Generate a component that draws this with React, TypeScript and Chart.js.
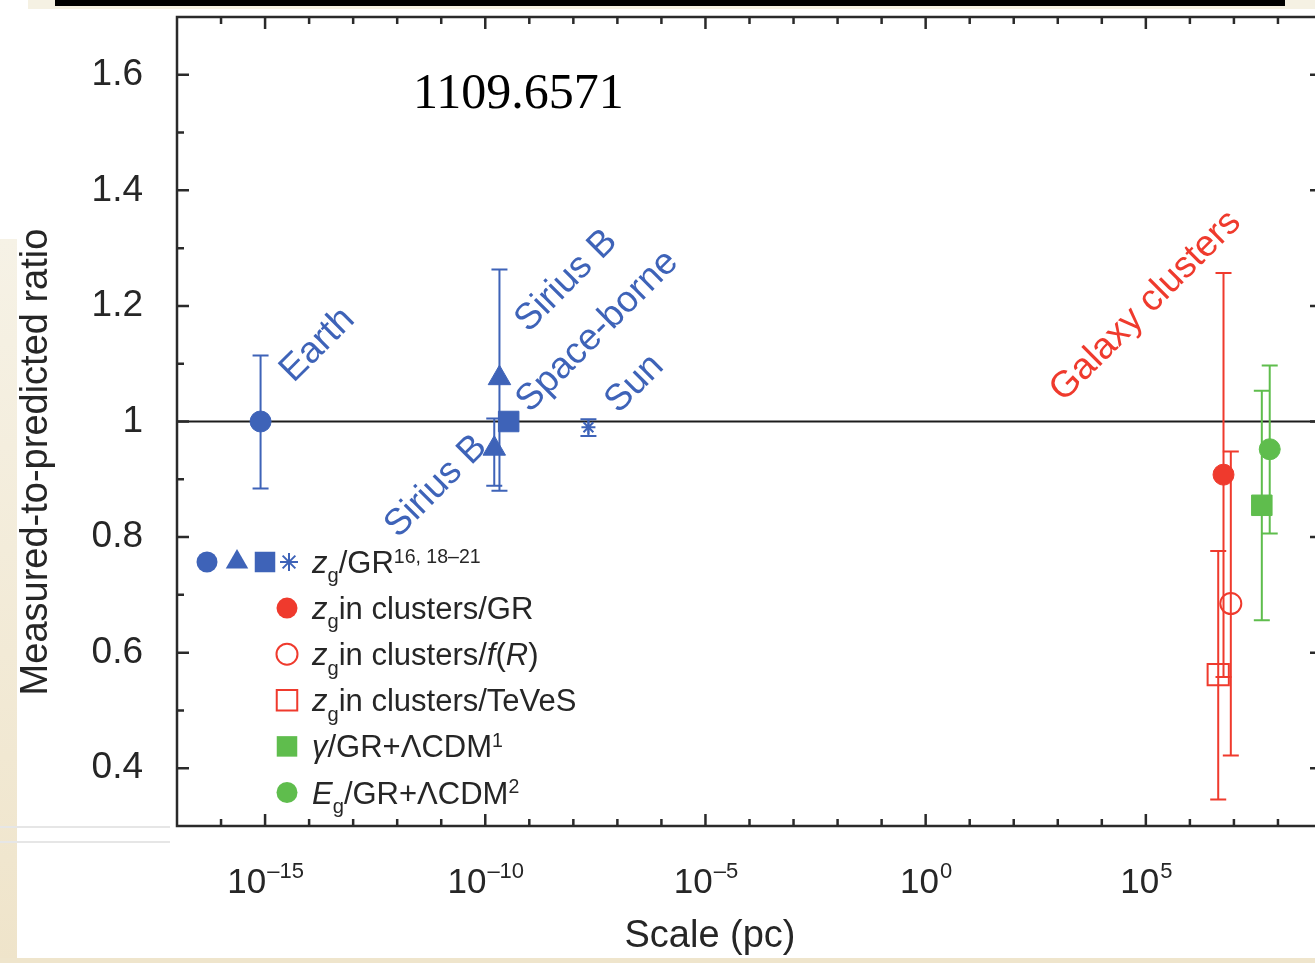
import React, { useEffect, useRef } from "react";
import { Chart, registerables } from "chart.js";

Chart.register(...registerables);

// ---------- axes ----------
const scaleMin = 1e-17;
const scaleMax = 1e9;
const ratioMin = 0.3;
const ratioMax = 1.7;
const ratioTicks = [0.4, 0.6, 0.8, 1, 1.2, 1.4, 1.6];
const scaleTickExponents = [-15, -10, -5, 0, 5];
const referenceRatio = 1;

// ---------- z_g / GR (blue) ----------
const earthScale = [7.9e-16];
const earthRatio = [1.0];
const earthLow = [0.884];
const earthHigh = [1.114];

const siriusScale = [2.1e-10, 1.6e-10];
const siriusRatio = [1.075, 0.953];
const siriusLow = [0.88, 0.889];
const siriusHigh = [1.263, 1.005];

const spaceScale = [3.4e-10];
const spaceRatio = [1.0];

const sunScale = [2.2e-8];
const sunRatio = [0.99];
const sunLow = [0.975];
const sunHigh = [1.004];

// ---------- clusters (red) ----------
const clusterGRScale = [5.8e6];
const clusterGRRatio = [0.908];
const clusterGRLow = [0.558];
const clusterGRHigh = [1.257];

const clusterFRScale = [8.5e6];
const clusterFRRatio = [0.685];
const clusterFRLow = [0.422];
const clusterFRHigh = [0.948];

const clusterTeVeSScale = [4.4e6];
const clusterTeVeSRatio = [0.562];
const clusterTeVeSLow = [0.346];
const clusterTeVeSHigh = [0.776];

// ---------- GR + ΛCDM (green) ----------
const gammaScale = [4.3e7];
const gammaRatio = [0.855];
const gammaLow = [0.656];
const gammaHigh = [1.053];

const egScale = [6.5e7];
const egRatio = [0.952];
const egLow = [0.806];
const egHigh = [1.097];

// ---------- texts ----------
const pageTitle = "1109.6571";
const xTitle = "Scale (pc)";
const yTitle = "Measured-to-predicted ratio";

const BLUE = "#3e63b8";
const RED = "#ef3a2d";
const GREEN = "#5fbd4d";
const INK = "#262626";
const FONT = '"Liberation Sans", Arial, Helvetica, sans-serif';
const SERIF = '"Liberation Serif", "Times New Roman", serif';

const pts = (xs: number[], ys: number[]) => xs.map((x, i) => ({ x, y: ys[i] }));

type Seg = { t: string; it?: boolean; sub?: boolean; sup?: boolean };

function drawRich(ctx: CanvasRenderingContext2D, x: number, y: number, segs: Seg[], size: number) {
  let cx = x;
  for (const s of segs) {
    const fs = s.sub ? size * 0.65 : s.sup ? size * 0.63 : size;
    ctx.font = `${s.it ? "italic " : ""}${fs}px ${FONT}`;
    const dy = s.sub ? size * 0.3 : s.sup ? -size * 0.33 : 0;
    ctx.fillText(s.t, cx, y + dy);
    cx += ctx.measureText(s.t).width;
  }
}

function drawMarker(
  ctx: CanvasRenderingContext2D,
  style: string,
  x: number,
  y: number,
  r: number,
  color: string,
  filled: boolean
) {
  ctx.save();
  ctx.strokeStyle = color;
  ctx.fillStyle = color;
  ctx.lineWidth = 2;
  ctx.beginPath();
  if (style === "circle") {
    ctx.arc(x, y, r, 0, Math.PI * 2);
  } else if (style === "triangle") {
    for (let k = 0; k < 3; k++) {
      const a = (k * 2 * Math.PI) / 3;
      const px = x + Math.sin(a) * r;
      const py = y - Math.cos(a) * r;
      if (k === 0) ctx.moveTo(px, py);
      else ctx.lineTo(px, py);
    }
    ctx.closePath();
  } else if (style === "rect") {
    const s = r * Math.SQRT1_2;
    ctx.rect(x - s, y - s, 2 * s, 2 * s);
  } else if (style === "star") {
    for (let k = 0; k < 4; k++) {
      const a = (k * Math.PI) / 4;
      ctx.moveTo(x - Math.cos(a) * r, y - Math.sin(a) * r);
      ctx.lineTo(x + Math.cos(a) * r, y + Math.sin(a) * r);
    }
  }
  if (style === "star" || !filled) ctx.stroke();
  else ctx.fill();
  ctx.restore();
}

const legendRows: { markers: { style: string; color: string; filled: boolean; r: number; x: number }[]; segs: Seg[] }[] = [
  {
    markers: [
      { style: "circle", color: BLUE, filled: true, r: 10.5, x: 207 },
      { style: "triangle", color: BLUE, filled: true, r: 13, x: 237 },
      { style: "rect", color: BLUE, filled: true, r: 14.5, x: 265 },
      { style: "star", color: BLUE, filled: false, r: 9, x: 289 },
    ],
    segs: [{ t: "z", it: true }, { t: "g", sub: true }, { t: "/GR" }, { t: "16, 18\u201321", sup: true }],
  },
  {
    markers: [{ style: "circle", color: RED, filled: true, r: 10.5, x: 287 }],
    segs: [{ t: "z", it: true }, { t: "g", sub: true }, { t: "in clusters/GR" }],
  },
  {
    markers: [{ style: "circle", color: RED, filled: false, r: 10.5, x: 287 }],
    segs: [
      { t: "z", it: true },
      { t: "g", sub: true },
      { t: "in clusters/" },
      { t: "f", it: true },
      { t: "(" },
      { t: "R", it: true },
      { t: ")" },
    ],
  },
  {
    markers: [{ style: "rect", color: RED, filled: false, r: 14.5, x: 287 }],
    segs: [{ t: "z", it: true }, { t: "g", sub: true }, { t: "in clusters/TeVeS" }],
  },
  {
    markers: [{ style: "rect", color: GREEN, filled: true, r: 14.5, x: 287 }],
    segs: [{ t: "\u03b3", it: true }, { t: "/GR+\u039bCDM" }, { t: "1", sup: true }],
  },
  {
    markers: [{ style: "circle", color: GREEN, filled: true, r: 10.5, x: 287 }],
    segs: [{ t: "E", it: true }, { t: "g", sub: true }, { t: "/GR+\u039bCDM" }, { t: "2", sup: true }],
  },
];

const annotations = [
  { text: "Earth", x: earthScale[0], y: earthRatio[0], dx: 33, dy: -38, color: BLUE },
  { text: "Sirius B", x: siriusScale[0], y: siriusRatio[0], dx: 29, dy: -45, color: BLUE },
  { text: "Space-borne", x: spaceScale[0], y: spaceRatio[0], dx: 21, dy: -8, color: BLUE },
  { text: "Sun", x: sunScale[0], y: sunRatio[0], dx: 30, dy: -13, color: BLUE },
  { text: "Sirius B", x: siriusScale[1], y: siriusRatio[1], dx: -96, dy: 90, color: BLUE },
  { text: "Galaxy clusters", x: clusterGRScale[0], y: clusterGRRatio[0], dx: -160, dy: -72, color: RED },
];

const decoPlugin = {
  id: "deco",
  beforeDatasetsDraw(chart: any) {
    const { ctx, chartArea: ca, scales } = chart;
    const xs = scales.x;
    const ys = scales.y;
    ctx.save();
    // reference line
    ctx.strokeStyle = "#1c1c1c";
    ctx.lineWidth = 2;
    const y1 = ys.getPixelForValue(referenceRatio);
    ctx.beginPath();
    ctx.moveTo(ca.left, y1);
    ctx.lineTo(ca.right, y1);
    ctx.stroke();
    // error bars
    const cap = 8;
    chart.data.datasets.forEach((ds: any) => {
      if (!ds.errLow) return;
      ctx.strokeStyle = ds.pointBorderColor;
      ctx.lineWidth = 2;
      ds.data.forEach((p: any, j: number) => {
        const px = xs.getPixelForValue(p.x);
        const lo = ys.getPixelForValue(ds.errLow[j]);
        const hi = ys.getPixelForValue(ds.errHigh[j]);
        ctx.beginPath();
        ctx.moveTo(px, lo);
        ctx.lineTo(px, hi);
        ctx.moveTo(px - cap, lo);
        ctx.lineTo(px + cap, lo);
        ctx.moveTo(px - cap, hi);
        ctx.lineTo(px + cap, hi);
        ctx.stroke();
      });
    });
    ctx.restore();
  },
  afterDraw(chart: any) {
    const { ctx, chartArea: ca, scales } = chart;
    const xs = scales.x;
    const ys = scales.y;
    ctx.save();
    // frame
    ctx.strokeStyle = "#2a2a2a";
    ctx.lineWidth = 2.5;
    ctx.strokeRect(ca.left, ca.top, ca.right - ca.left, ca.bottom - ca.top);
    // x ticks (inward, every decade)
    ctx.beginPath();
    const eMin = Math.ceil(Math.log10(scaleMin)) + 1;
    const eMax = Math.floor(Math.log10(scaleMax)) - 1;
    for (let e = eMin; e <= eMax; e++) {
      const px = xs.getPixelForValue(10 ** e);
      const len = e % 5 === 0 ? 12 : 7;
      ctx.moveTo(px, ca.bottom);
      ctx.lineTo(px, ca.bottom - len);
      ctx.moveTo(px, ca.top);
      ctx.lineTo(px, ca.top + len);
    }
    // y ticks (inward, every 0.1)
    for (let k = Math.round(ratioMin * 10) + 1; k < Math.round(ratioMax * 10); k++) {
      const py = ys.getPixelForValue(k / 10);
      const len = k % 2 === 0 ? 12 : 7;
      ctx.moveTo(ca.left, py);
      ctx.lineTo(ca.left + len, py);
      ctx.moveTo(ca.right, py);
      ctx.lineTo(ca.right - len, py);
    }
    ctx.stroke();

    // x tick labels with superscript exponents
    ctx.fillStyle = INK;
    ctx.textBaseline = "alphabetic";
    ctx.textAlign = "left";
    for (const e of scaleTickExponents) {
      const px = xs.getPixelForValue(10 ** e);
      const base = "10";
      const sup = e < 0 ? "\u2013" + Math.abs(e) : String(e);
      ctx.font = `35px ${FONT}`;
      const wb = ctx.measureText(base).width;
      ctx.font = `22px ${FONT}`;
      const ws = ctx.measureText(sup).width;
      const x0 = px - (wb + ws) / 2;
      ctx.font = `35px ${FONT}`;
      ctx.fillText(base, x0, ca.bottom + 67);
      ctx.font = `22px ${FONT}`;
      ctx.fillText(sup, x0 + wb + 1, ca.bottom + 52);
    }

    // axis titles
    ctx.font = `38px ${FONT}`;
    ctx.textAlign = "center";
    ctx.textBaseline = "middle";
    ctx.fillText(xTitle, 710, 937);
    ctx.save();
    ctx.translate(37, 462);
    ctx.rotate(-Math.PI / 2);
    ctx.fillText(yTitle, 0, 0);
    ctx.restore();

    // legend
    ctx.textAlign = "left";
    ctx.textBaseline = "alphabetic";
    legendRows.forEach((row, i) => {
      const y = 562 + i * 46.1;
      row.markers.forEach((m) => drawMarker(ctx, m.style, m.x, y, m.r, m.color, m.filled));
      ctx.fillStyle = INK;
      drawRich(ctx, 312, y + 11, row.segs, 31);
    });

    // rotated annotations
    ctx.font = `37px ${FONT}`;
    for (const a of annotations) {
      const px = xs.getPixelForValue(a.x) + a.dx;
      const py = ys.getPixelForValue(a.y) + a.dy;
      ctx.save();
      ctx.translate(px, py);
      ctx.rotate(-Math.PI / 4);
      ctx.fillStyle = a.color;
      ctx.fillText(a.text, 0, 0);
      ctx.restore();
    }

    // page title
    ctx.fillStyle = "#000";
    ctx.font = `50px ${SERIF}`;
    ctx.fillText(pageTitle, 413, 108);
    ctx.restore();
  },
};

export default function App() {
  const ref = useRef<HTMLCanvasElement>(null);

  useEffect(() => {
    const canvas = ref.current;
    if (!canvas) return;

    const ds = (
      label: string,
      xs: number[],
      ys: number[],
      style: string,
      radius: number,
      color: string,
      filled: boolean,
      lo?: number[],
      hi?: number[]
    ) => ({
      label,
      data: pts(xs, ys),
      pointStyle: style,
      pointRadius: radius,
      pointHoverRadius: radius,
      pointBackgroundColor: filled ? color : "rgba(0,0,0,0)",
      pointBorderColor: color,
      pointBorderWidth: filled ? 1 : 2,
      showLine: false,
      errLow: lo,
      errHigh: hi,
    });

    const datasets: any[] = [
      ds("Earth", earthScale, earthRatio, "circle", 10.5, BLUE, true, earthLow, earthHigh),
      ds("Sirius B", siriusScale, siriusRatio, "triangle", 13, BLUE, true, siriusLow, siriusHigh),
      ds("Space-borne", spaceScale, spaceRatio, "rect", 14.5, BLUE, true),
      ds("Sun", sunScale, sunRatio, "star", 7, BLUE, false, sunLow, sunHigh),
      ds("z_g in clusters/GR", clusterGRScale, clusterGRRatio, "circle", 10.5, RED, true, clusterGRLow, clusterGRHigh),
      ds("z_g in clusters/f(R)", clusterFRScale, clusterFRRatio, "circle", 10.5, RED, false, clusterFRLow, clusterFRHigh),
      ds("z_g in clusters/TeVeS", clusterTeVeSScale, clusterTeVeSRatio, "rect", 15, RED, false, clusterTeVeSLow, clusterTeVeSHigh),
      ds("gamma/GR+LCDM", gammaScale, gammaRatio, "rect", 14.5, GREEN, true, gammaLow, gammaHigh),
      ds("E_g/GR+LCDM", egScale, egRatio, "circle", 10.5, GREEN, true, egLow, egHigh),
    ];

    const chart = new Chart(canvas, {
      type: "scatter",
      data: { datasets },
      options: {
        responsive: false,
        animation: false,
        devicePixelRatio: 1,
        events: [],
        layout: { padding: { top: 13, right: 18, left: 0, bottom: 0 } },
        plugins: { legend: { display: false }, tooltip: { enabled: false } },
        scales: {
          x: {
            type: "logarithmic",
            position: "bottom",
            min: scaleMin,
            max: scaleMax,
            grid: { display: false, drawTicks: false },
            border: { display: false },
            ticks: { display: false },
            afterFit: (s: any) => {
              s.height = 137;
              s.paddingLeft = 0;
              s.paddingRight = 0;
            },
          },
          y: {
            type: "linear",
            position: "left",
            min: ratioMin,
            max: ratioMax,
            grid: { display: false, drawTicks: false },
            border: { display: false },
            afterBuildTicks: (s: any) => {
              s.ticks = ratioTicks.map((v) => ({ value: v }));
            },
            ticks: {
              padding: 34,
              color: INK,
              autoSkip: false,
              font: { family: FONT, size: 37 },
              callback: (v: any) => (Number(v) === 1 ? "1" : Number(v).toFixed(1)),
            },
            afterFit: (s: any) => {
              s.width = 177;
              s.paddingTop = 0;
              s.paddingBottom = 0;
            },
          },
        },
      } as any,
      plugins: [decoPlugin as any],
    });

    return () => chart.destroy();
  }, []);

  return (
    <div
      style={{
        position: "fixed",
        left: 0,
        top: 0,
        width: 1315,
        height: 963,
        overflow: "hidden",
        background: "#ffffff",
      }}
    >
      <div style={{ position: "absolute", left: 28, top: 0, width: 1287, height: 9, background: "#f5f1e3" }} />
      <div style={{ position: "absolute", left: 55, top: 0, width: 1230, height: 6, background: "#000000" }} />
      <div
        style={{
          position: "absolute",
          left: 0,
          top: 239,
          width: 17,
          height: 724,
          background: "linear-gradient(#f6f2e6, #efe4ca)",
        }}
      />
      <div style={{ position: "absolute", left: 0, top: 826, width: 170, height: 2, background: "#e6e6e6" }} />
      <div style={{ position: "absolute", left: 0, top: 841, width: 170, height: 2, background: "#e6e6e6" }} />
      <div style={{ position: "absolute", left: 0, top: 958, width: 1315, height: 5, background: "#efe5cc" }} />
      <canvas
        ref={ref}
        width={1340}
        height={963}
        style={{ position: "absolute", left: 0, top: 0, width: 1340, height: 963 }}
      />
    </div>
  );
}
